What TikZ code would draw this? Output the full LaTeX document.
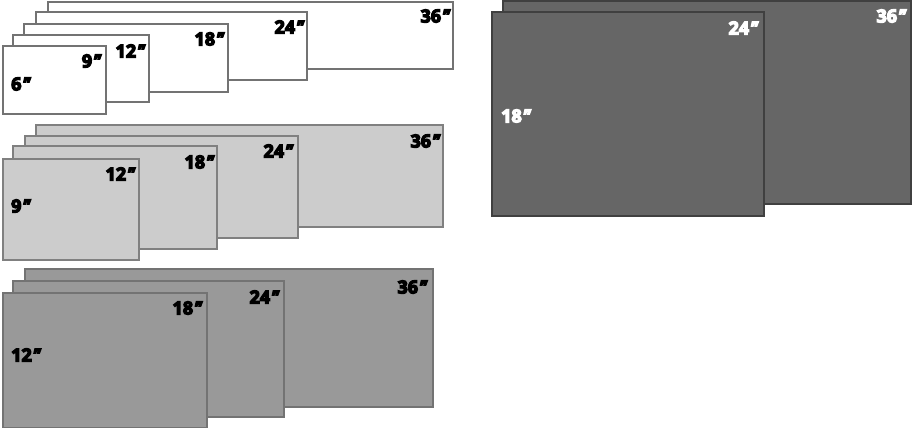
\documentclass[tikz,border=0pt]{standalone}
\usepackage{fontspec}
\newfontfamily\lblfont{Open Sans Bold}[FakeBold=7]
\newfontfamily\primefont{Open Sans Bold}[FakeBold=7,FakeSlant=0.3]
\newcommand\inchmark{{\primefont\kern-1.8pt"}}
\begin{document}
\begin{tikzpicture}[x=1pt,y=-1pt,
  sheet/.style={line width=1.2pt},
  wsheet/.style={sheet,draw=black!55,fill=white},
  lsheet/.style={sheet,draw=black!50,fill=black!20},
  msheet/.style={sheet,draw=black!55,fill=black!40},
  dsheet/.style={sheet,draw=black!75,fill=black!60},
  lbl/.style={inner sep=0pt,font=\lblfont\fontsize{18}{20}\selectfont},
  rl/.style={lbl,anchor=east},
  ll/.style={lbl,anchor=west}]
\useasboundingbox (0,0) rectangle (913,428);
% group 1 (white)
\draw[wsheet] (48,2) rectangle (453,69);
\draw[wsheet] (36,12) rectangle (307,80);
\draw[wsheet] (24,24) rectangle (228,92);
\draw[wsheet] (13,35) rectangle (149,102);
\draw[wsheet] (3,46) rectangle (106,114);
\node[rl] (a36) at (448,16) {36\inchmark};
\node[rl] (a24) at (302,27) {24\inchmark};
\node[rl] (a18) at (222,39) {18\inchmark};
\node[rl] (a12) at (143,51) {12\inchmark};
\node[rl] (a9) at (99,61) {9\inchmark};
\node[ll] (a6) at (11,84) {6\inchmark};
% group 2 (light gray)
\draw[lsheet] (36,125) rectangle (443,227);
\draw[lsheet] (25,136) rectangle (298,238);
\draw[lsheet] (13,146) rectangle (217,249);
\draw[lsheet] (3,159) rectangle (139,260);
\node[rl] (b36) at (438,141) {36\inchmark};
\node[rl] (b24) at (291,151) {24\inchmark};
\node[rl] (b18) at (212,162) {18\inchmark};
\node[rl] (b12) at (133,174) {12\inchmark};
\node[ll] (b9) at (11,206) {9\inchmark};
% group 3 (medium gray)
\draw[msheet] (25,269) rectangle (433,407);
\draw[msheet] (13,281) rectangle (284,417);
\draw[msheet] (3,293) rectangle (207,428);
\node[rl] (c36) at (425,287) {36\inchmark};
\node[rl] (c24) at (277,297) {24\inchmark};
\node[rl] (c18) at (200,308) {18\inchmark};
\node[ll] (c12) at (11,355) {12\inchmark};
% group 4 (dark gray)
\draw[dsheet] (503,1) rectangle (911,204);
\draw[dsheet] (492,12) rectangle (764,216);
\node[rl,text=white] (d36) at (904,16) {36\inchmark};
\node[rl,text=white] (d24) at (756,28) {24\inchmark};
\node[ll,text=white] (d18) at (501,116) {18\inchmark};
\end{tikzpicture}
\end{document}
